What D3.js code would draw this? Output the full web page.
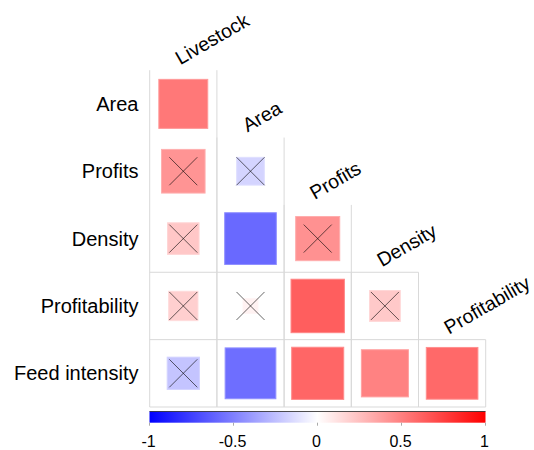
<!DOCTYPE html>
<html>
<head>
<meta charset="utf-8">
<script src="https://cdn.jsdelivr.net/npm/d3@7"></script>
<style>
  html, body { margin: 0; padding: 0; background: #fff; }
  svg { display: block; }
  text { font-family: "Liberation Sans", Arial, sans-serif; fill: #000; }
</style>
</head>
<body>
<svg id="chart" width="534" height="450"></svg>
<script>
// Variables along the rows (lower triangle) and columns
const rowVars = ["Area", "Profits", "Density", "Profitability", "Feed intensity"];
const colVars = ["Livestock", "Area", "Profits", "Density", "Profitability"];

// Correlation coefficients, lower triangle, one array per row
const corrArea          = [0.53];
const corrProfits       = [0.42, -0.17];
const corrDensity       = [0.22, -0.59, 0.43];
const corrProfitability = [0.19, 0.05, 0.63, 0.21];
const corrFeed          = [-0.23, -0.57, 0.60, 0.49, 0.59];

// Non-significant pairs (crossed out)
const nsArea          = [false];
const nsProfits       = [true, true];
const nsDensity       = [true, false, true];
const nsProfitability = [true, true, false, true];
const nsFeed          = [true, false, false, false, false];

// Colour legend ticks
const legendTicks = [-1, -0.5, 0, 0.5, 1];

const corrRows = [corrArea, corrProfits, corrDensity, corrProfitability, corrFeed];
const nsRows = [nsArea, nsProfits, nsDensity, nsProfitability, nsFeed];

const cells = [];
corrRows.forEach((vals, i) => vals.forEach((r, j) => {
  cells.push({ row: rowVars[i], col: colVars[j], i, j, r, ns: nsRows[i][j] });
}));

const svg = d3.select("#chart");

const gridLeft = 149.7, gridRight = 485.7, gridTop = 70.2, gridBottom = 407;

const x = d3.scaleBand().domain(colVars.map((d, j) => j)).range([gridLeft, gridRight]);
const y = d3.scaleBand().domain(rowVars.map((d, i) => i)).range([gridTop, gridBottom]);
const color = d3.scaleLinear().domain([-1, 0, 1]).range(["#0000ff", "#ffffff", "#ff0000"]);

const gridColor = "#d9d9d9";
const grid = svg.append("g").attr("fill", "none").attr("stroke", gridColor).attr("stroke-width", 1);

// vertical borders of each column, from its first cell down
colVars.forEach((c, j) => {
  const yTop = y(j);
  [x(j), x(j) + x.bandwidth()].forEach(xx => {
    grid.append("line")
      .attr("x1", xx).attr("x2", xx)
      .attr("y1", yTop).attr("y2", gridBottom);
  });
});
// horizontal borders in the lower rows
[3, 4].forEach(i => {
  grid.append("line")
    .attr("x1", gridLeft).attr("x2", x(i) + x.bandwidth())
    .attr("y1", y(i)).attr("y2", y(i));
});
grid.append("line")
  .attr("x1", gridLeft).attr("x2", gridRight)
  .attr("y1", gridBottom).attr("y2", gridBottom);

// squares: area proportional to |r|
const sq = svg.append("g");
sq.selectAll("rect").data(cells).join("rect")
  .attr("x", d => x(d.j) + x.bandwidth() / 2 - x.bandwidth() * Math.sqrt(Math.abs(d.r)) / 2)
  .attr("y", d => y(d.i) + y.bandwidth() / 2 - y.bandwidth() * Math.sqrt(Math.abs(d.r)) / 2)
  .attr("width", d => x.bandwidth() * Math.sqrt(Math.abs(d.r)))
  .attr("height", d => y.bandwidth() * Math.sqrt(Math.abs(d.r)))
  .attr("fill", d => color(d.r))
  .attr("stroke", d => d3.interpolateRgb(color(d.r), "#ffffff")(0.25))
  .attr("stroke-width", 1);

// crosses for non-significant pairs
const half = 14;
const crosses = svg.append("g").attr("stroke", "#000").attr("stroke-opacity", 0.6).attr("stroke-width", 1);
cells.filter(d => d.ns).forEach(d => {
  const cx = x(d.j) + x.bandwidth() / 2, cy = y(d.i) + y.bandwidth() / 2;
  crosses.append("line").attr("x1", cx - half).attr("y1", cy - half).attr("x2", cx + half).attr("y2", cy + half);
  crosses.append("line").attr("x1", cx - half).attr("y1", cy + half).attr("x2", cx + half).attr("y2", cy - half);
});

// row labels
svg.append("g").selectAll("text").data(rowVars).join("text")
  .attr("x", 138.5)
  .attr("y", (d, i) => y(i) + y.bandwidth() / 2 + 7)
  .attr("text-anchor", "end")
  .attr("font-size", "20px")
  .text(d => d);

// column labels, rotated
svg.append("g").selectAll("text").data(colVars).join("text")
  .attr("transform", (d, j) => `translate(${x(j) + x.bandwidth() / 2 - 3},${y(j) - 5}) rotate(-30)`)
  .attr("text-anchor", "start")
  .attr("font-size", "19.5px")
  .text(d => d);

// colour legend
const legX = d3.scaleLinear().domain([-1, 1]).range([149.5, 485.5]);
const legTop = 411.5, legH = 11.2;
const defs = svg.append("defs");
const grad = defs.append("linearGradient").attr("id", "corrGrad").attr("x1", "0%").attr("x2", "100%");
[-1, 0, 1].forEach(v => grad.append("stop")
  .attr("offset", `${(v + 1) * 50}%`).attr("stop-color", color(v)));
svg.append("rect")
  .attr("x", legX(-1)).attr("y", legTop)
  .attr("width", legX(1) - legX(-1)).attr("height", legH)
  .attr("fill", "url(#corrGrad)");
svg.append("line")
  .attr("x1", legX(-1)).attr("x2", legX(1))
  .attr("y1", legTop).attr("y2", legTop)
  .attr("stroke", "#222").attr("stroke-width", 0.8);

const legAxis = svg.append("g");
legAxis.selectAll("line").data(legendTicks).join("line")
  .attr("x1", d => legX(d)).attr("x2", d => legX(d))
  .attr("y1", legTop + legH).attr("y2", legTop + legH + 3)
  .attr("stroke", "#aaa").attr("stroke-width", 1);
legAxis.selectAll("text").data(legendTicks).join("text")
  .attr("x", d => legX(d) - 1)
  .attr("y", 446.5)
  .attr("text-anchor", "middle")
  .attr("font-size", "16px")
  .text(d => String(d));
</script>
</body>
</html>
